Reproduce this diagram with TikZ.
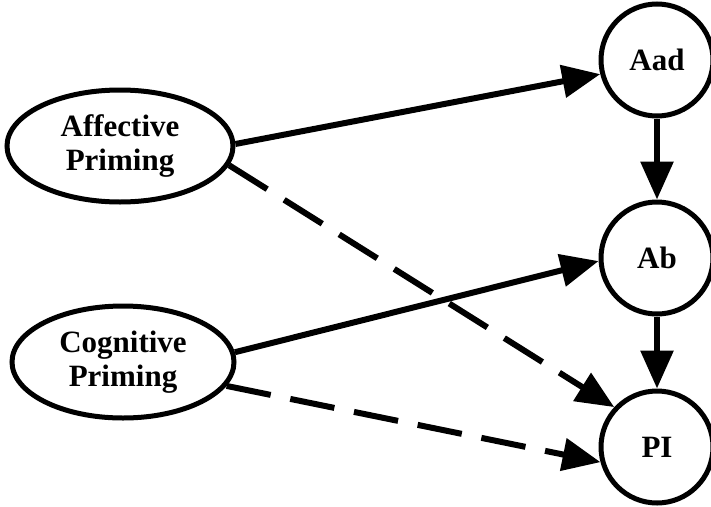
\documentclass[tikz,border=0pt]{standalone}
\usepackage{fontspec}
\setmainfont{Liberation Serif}
\usetikzlibrary{arrows.meta,shapes.geometric}
\begin{document}
\begin{tikzpicture}[x=1pt,y=-1pt,
  lbl/.style={font=\bfseries\fontsize{31}{34}\selectfont, align=center},
  oval/.style={ellipse, draw, line width=5pt, inner sep=0pt, lbl},
  circ/.style={circle, draw, line width=5pt, inner sep=0pt, minimum size=112pt, lbl},
  conn/.style={line width=6pt, -{Triangle[length=38pt,width=32pt]}},
  dconn/.style={conn, dash pattern=on 45pt off 20pt}]
\useasboundingbox (0,0) rectangle (711,506);
\node[oval, minimum width=226pt, minimum height=112pt] (aff) at (120,146) {Affective\\Priming};
\node[oval, minimum width=222pt, minimum height=112pt] (cog) at (123,362) {Cognitive\\Priming};
\node[circ] (aad) at (657,60) {Aad};
\node[circ] (ab) at (657,258) {Ab};
\node[circ] (pi) at (657,447) {PI};
\draw[conn] (aff.1) -- (aad.194);
\draw[dconn] (aff.-10) -- (pi.137);
\draw[conn] (cog.5) -- (ab.183);
\draw[dconn] (cog.-13) -- (pi.195);
\draw[conn] (aad) -- (ab);
\draw[conn] (ab) -- (pi);
\end{tikzpicture}
\end{document}
